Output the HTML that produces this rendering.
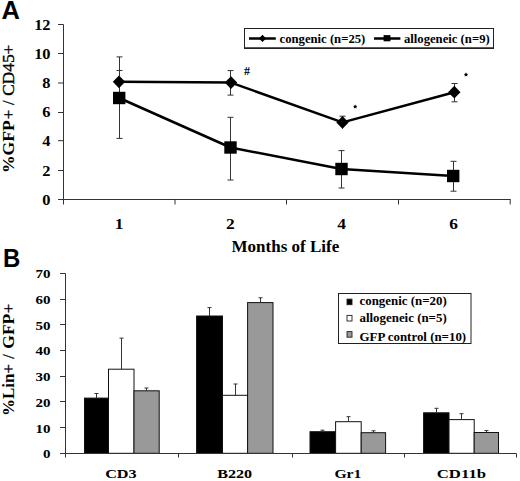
<!DOCTYPE html>
<html><head><meta charset="utf-8">
<style>
html,body{margin:0;padding:0;background:#fff;}
svg{display:block;}
text{font-family:"Liberation Serif",serif;fill:#000;}
.sans{font-family:"Liberation Sans",sans-serif;font-weight:bold;}
.b{font-weight:bold;}
</style></head>
<body>
<svg width="520" height="481" viewBox="0 0 520 481">
<rect x="0" y="0" width="520" height="481" fill="#fff"/>
<text class="sans" x="1.6" y="18.6" font-size="25.5">A</text>
<g transform="translate(14 171.7) rotate(-90)">
<text class="b" transform="translate(-1.30 0) scale(1.067 1)" font-size="16.5">%GFP</text>
<text stroke="#000" stroke-width="0.35" transform="translate(52.54 0) scale(1.000 1)" font-size="16.5">+</text>
<text stroke="#000" stroke-width="0.35" transform="translate(66.61 0) scale(1.000 1)" font-size="16.5">/</text>
<text stroke="#000" stroke-width="0.35" transform="translate(75.91 0) scale(1.050 1)" font-size="16.5">CD45+</text>
</g>
<g stroke="#333" stroke-width="1" fill="none">
<path d="M63.5 24.5V204.5"/>
<path d="M58 199.5H510.7"/>
<path d="M58 24.5H63.5"/>
<path d="M58 53.5H63.5"/>
<path d="M58 83H63.5"/>
<path d="M58 112.5H63.5"/>
<path d="M58 140.7H63.5"/>
<path d="M58 170.5H63.5"/>
<path d="M175.0 199.5V204.5"/>
<path d="M286.5 199.5V204.5"/>
<path d="M398.5 199.5V204.5"/>
<path d="M510.2 199.5V204.5"/>
</g>
<text class="b" transform="translate(50.50 29.70) scale(1.170 0.970)" font-size="14" text-anchor="end">12</text>
<text class="b" transform="translate(50.50 58.87) scale(1.170 0.970)" font-size="14" text-anchor="end">10</text>
<text class="b" transform="translate(50.50 88.03) scale(1.170 0.970)" font-size="14" text-anchor="end">8</text>
<text class="b" transform="translate(50.50 117.20) scale(1.170 0.970)" font-size="14" text-anchor="end">6</text>
<text class="b" transform="translate(50.50 146.37) scale(1.170 0.970)" font-size="14" text-anchor="end">4</text>
<text class="b" transform="translate(50.50 175.53) scale(1.170 0.970)" font-size="14" text-anchor="end">2</text>
<text class="b" transform="translate(50.50 204.70) scale(1.170 0.970)" font-size="14" text-anchor="end">0</text>
<text class="b" transform="translate(119.20 228.60) scale(1.200 1.000)" font-size="14.5" text-anchor="middle">1</text>
<text class="b" transform="translate(230.40 228.60) scale(1.200 1.000)" font-size="14.5" text-anchor="middle">2</text>
<text class="b" transform="translate(341.70 228.60) scale(1.200 1.000)" font-size="14.5" text-anchor="middle">4</text>
<text class="b" transform="translate(453.60 228.60) scale(1.200 1.000)" font-size="14.5" text-anchor="middle">6</text>
<text class="b" transform="translate(285.40 252.00) scale(1.000 1.000)" font-size="17" text-anchor="middle">Months of Life</text>
<g stroke="#333" stroke-width="1" fill="none">
<path d="M119.5 56.9V138.4M116.5 56.9H122.5M116.5 138.4H122.5"/>
<path d="M119.5 70.5V93.1M116.5 70.5H122.5M116.5 93.1H122.5"/>
<path d="M230.5 70.6V95.1M227.5 70.6H233.5M227.5 95.1H233.5"/>
<path d="M230.5 117.3V180M227.5 117.3H233.5M227.5 180H233.5"/>
<path d="M342.5 116.2V128.7M339.5 116.2H345.5"/>
<path d="M341.5 150.6V188M338.5 150.6H344.5M338.5 188H344.5"/>
<path d="M454.5 83.5V101.8M451.5 83.5H457.5M451.5 101.8H457.5"/>
<path d="M453.5 161.3V191.2M450.5 161.3H456.5M450.5 191.2H456.5"/>
</g>
<g stroke="#000" stroke-width="2.5" fill="none" stroke-linejoin="round">
<polyline points="119,81.8 231,82.6 342.5,122.4 454.3,92.2"/>
<polyline points="119.2,98 230.5,147.5 341.5,169 453.2,176"/>
</g>
<g fill="#000">
<path d="M119 75.39999999999999L125.2 81.8L119 88.2L112.8 81.8Z"/>
<path d="M231 76.19999999999999L237.2 82.6L231 89.0L224.8 82.6Z"/>
<path d="M342.5 116.0L348.7 122.4L342.5 128.8L336.3 122.4Z"/>
<path d="M454.3 85.8L460.5 92.2L454.3 98.60000000000001L448.1 92.2Z"/>
<rect x="113.00" y="91.80" width="12.4" height="12.4"/>
<rect x="224.30" y="141.30" width="12.4" height="12.4"/>
<rect x="335.30" y="162.80" width="12.4" height="12.4"/>
<rect x="447.00" y="169.80" width="12.4" height="12.4"/>
</g>
<text class="b" x="247" y="74.8" font-size="12" text-anchor="middle">#</text>
<polygon points="355.20,104.40 355.88,105.77 357.39,105.99 356.29,107.06 356.55,108.56 355.20,107.85 353.85,108.56 354.11,107.06 353.01,105.99 354.52,105.77" fill="#000"/>
<polygon points="466.00,72.30 466.68,73.67 468.19,73.89 467.09,74.96 467.35,76.46 466.00,75.75 464.65,76.46 464.91,74.96 463.81,73.89 465.32,73.67" fill="#000"/>
<rect x="244.5" y="28.5" width="249" height="19.5" fill="#fff" stroke="#222" stroke-width="1"/>
<path d="M244 48.3H494" stroke="#222" stroke-width="1.4"/>
<path d="M249 38.5H275.8M374 38.5H400.4" stroke="#000" stroke-width="2.3"/>
<path d="M262.5 34.8L266.1 38.4L262.5 42L258.9 38.4Z" fill="#000"/>
<rect x="383.6" y="35.1" width="6.8" height="6.2" fill="#000"/>
<text class="b" x="279.5" y="43.4" font-size="12.7">congenic (n=25)</text>
<text class="b" x="403.9" y="43.4" font-size="12.7">allogeneic (n=9)</text>
<text class="sans" transform="translate(2.9 267.4) scale(0.94 1)" font-size="25.5">B</text>
<g transform="translate(13.7 414.8) rotate(-90)">
<text class="b" transform="translate(-1.24 0) scale(1.030 1)" font-size="16.5">%Lin</text>
<text stroke="#000" stroke-width="0.35" transform="translate(41.39 0) scale(1.000 1)" font-size="16.5">+</text>
<text stroke="#000" stroke-width="0.35" transform="translate(56.01 0) scale(1.000 1)" font-size="16.5">/</text>
<text class="b" transform="translate(66.13 0) scale(1.060 1)" font-size="16.5">GFP</text>
<text stroke="#000" stroke-width="0.35" transform="translate(101.59 0) scale(1.000 1)" font-size="16.5">+</text>
</g>
<g stroke="#111" stroke-width="1">
<rect x="84.5" y="398.1" width="24.00" height="55.20" fill="#000"/>
<rect x="108.5" y="369.2" width="25.50" height="84.10" fill="#fff"/>
<rect x="134" y="390.8" width="25.20" height="62.50" fill="#999"/>
<rect x="196.6" y="316" width="25.90" height="137.30" fill="#000"/>
<rect x="222.5" y="395.3" width="25.10" height="58.00" fill="#fff"/>
<rect x="247.6" y="302.6" width="25.40" height="150.70" fill="#999"/>
<rect x="310" y="431.7" width="25.60" height="21.60" fill="#000"/>
<rect x="335.6" y="421.7" width="25.60" height="31.60" fill="#fff"/>
<rect x="361.2" y="432.7" width="24.40" height="20.60" fill="#999"/>
<rect x="423.6" y="412.8" width="25.40" height="40.50" fill="#000"/>
<rect x="449" y="419.6" width="25.20" height="33.70" fill="#fff"/>
<rect x="474.2" y="432.5" width="24.30" height="20.80" fill="#999"/>
</g>
<g stroke="#333" stroke-width="1" fill="none">
<path d="M96.5 393.5V398.1M94.5 393.5H98.5"/>
<path d="M121.5 338.1V369.2M119.5 338.1H123.5"/>
<path d="M146.5 388V390.8M144.5 388H148.5"/>
<path d="M209.5 307.6V316M207.5 307.6H211.5"/>
<path d="M235.5 384V395.3M233.5 384H237.5"/>
<path d="M260.5 297.8V302.6M258.5 297.8H262.5"/>
<path d="M322.5 430.2V431.7M320.5 430.2H324.5"/>
<path d="M348.5 416.7V421.7M346.5 416.7H350.5"/>
<path d="M373.5 430.8V432.7M371.5 430.8H375.5"/>
<path d="M436.5 408.3V412.8M434.5 408.3H438.5"/>
<path d="M461.5 413.7V419.6M459.5 413.7H463.5"/>
<path d="M486.5 430.6V432.5M484.5 430.6H488.5"/>
</g>
<g stroke="#333" stroke-width="1" fill="none">
<path d="M65.5 273.5V457.5"/>
<path d="M60 453.5H516.5"/>
<path d="M60 273.5H65.5"/>
<path d="M60 299.5H65.5"/>
<path d="M60 324.5H65.5"/>
<path d="M60 350.5H65.5"/>
<path d="M60 376.5H65.5"/>
<path d="M60 401.5H65.5"/>
<path d="M60 427.5H65.5"/>
<path d="M178.5 453.5V457.5"/>
<path d="M292.5 453.5V457.5"/>
<path d="M404.5 453.5V457.5"/>
<path d="M516.5 453.5V457.5"/>
</g>
<text class="b" transform="translate(50.60 278.30) scale(1.200 1.000)" font-size="12.5" text-anchor="end">70</text>
<text class="b" transform="translate(50.60 304.01) scale(1.200 1.000)" font-size="12.5" text-anchor="end">60</text>
<text class="b" transform="translate(50.60 329.73) scale(1.200 1.000)" font-size="12.5" text-anchor="end">50</text>
<text class="b" transform="translate(50.60 355.44) scale(1.200 1.000)" font-size="12.5" text-anchor="end">40</text>
<text class="b" transform="translate(50.60 381.16) scale(1.200 1.000)" font-size="12.5" text-anchor="end">30</text>
<text class="b" transform="translate(50.60 406.87) scale(1.200 1.000)" font-size="12.5" text-anchor="end">20</text>
<text class="b" transform="translate(50.60 432.59) scale(1.200 1.000)" font-size="12.5" text-anchor="end">10</text>
<text class="b" transform="translate(50.60 458.30) scale(1.200 1.000)" font-size="12.5" text-anchor="end">0</text>
<text class="b" transform="translate(120.90 478.40) scale(1.230 1.000)" font-size="13.2" text-anchor="middle">CD3</text>
<text class="b" transform="translate(234.70 478.40) scale(1.220 1.000)" font-size="13.2" text-anchor="middle">B220</text>
<text class="b" transform="translate(347.90 478.40) scale(1.190 1.000)" font-size="13.2" text-anchor="middle">Gr1</text>
<text class="b" transform="translate(461.40 478.40) scale(1.270 1.000)" font-size="13.2" text-anchor="middle">CD11b</text>
<rect x="338.5" y="293.5" width="132.5" height="50" fill="#fff" stroke="#222" stroke-width="1"/>
<rect x="347" y="299.1" width="5" height="5.6" fill="#000" stroke="#222" stroke-width="0.9"/>
<rect x="347" y="315.4" width="5" height="5.6" fill="#fff" stroke="#222" stroke-width="0.9"/>
<rect x="347" y="331.6" width="5" height="5.6" fill="#999" stroke="#222" stroke-width="0.9"/>
<text class="b" x="359.5" y="304.7" font-size="12.9">congenic (n=20)</text>
<text class="b" x="359.5" y="322.0" font-size="12.9">allogeneic (n=5)</text>
<text class="b" x="359.5" y="341.2" font-size="12.9">GFP control (n=10)</text>
</svg>
</body></html>
